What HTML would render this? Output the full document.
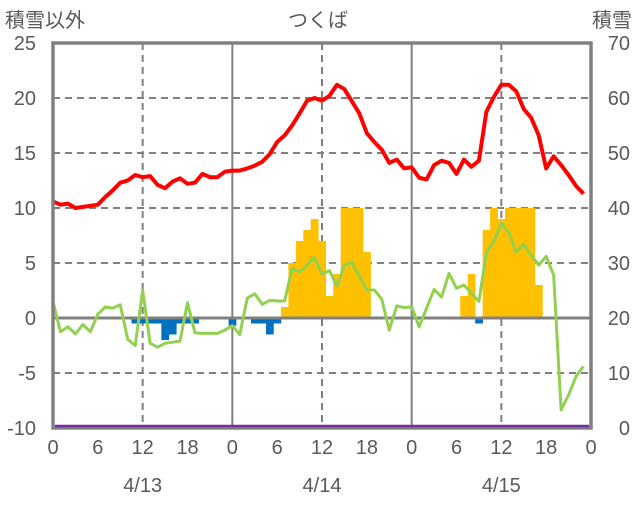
<!DOCTYPE html>
<html><head><meta charset="utf-8"><style>
body{margin:0;background:#fff;}
svg text{font-family:"Liberation Sans Narrow","Liberation Sans","Noto Sans CJK JP",sans-serif;fill:#595959;}
</style></head><body>
<svg id="chart" width="636" height="501" viewBox="0 0 636 501" xmlns="http://www.w3.org/2000/svg"></svg>
<script>
const hours=[...Array(72).keys()];
const temp=[10.6,10.3,10.4,10.0,10.1,10.2,10.3,11.0,11.6,12.3,12.5,13.0,12.8,12.9,12.1,11.8,12.4,12.7,12.2,12.3,13.1,12.8,12.8,13.3,
13.4,13.4,13.6,13.85,14.2,14.9,16.0,16.6,17.5,18.6,19.75,20.0,19.75,20.2,21.2,20.8,19.7,18.6,16.8,16.0,15.3,14.1,14.4,13.6,
13.7,12.75,12.6,13.9,14.3,14.1,13.1,14.4,13.75,14.3,18.75,20.1,21.2,21.2,20.6,19.0,18.2,16.6,13.6,14.7,13.9,13.0,12.0,11.3];
const green=[1.5,-1.25,-0.8,-1.45,-0.6,-1.25,0.35,1.0,0.9,1.2,-1.95,-2.5,2.5,-2.3,-2.65,-2.3,-2.2,-2.1,1.4,-1.35,-1.4,-1.4,-1.4,-1.1,
-0.7,-1.5,1.8,2.2,1.25,1.6,1.55,1.55,4.5,4.2,4.8,5.5,4.0,4.3,2.9,4.8,5.1,3.8,2.55,2.55,1.7,-1.1,1.1,0.95,
1.0,-0.8,0.9,2.6,1.9,4.05,2.7,3.0,2.25,1.5,5.95,6.95,8.65,7.75,6.0,6.7,5.7,4.8,5.6,3.9,-8.35,-7.0,-5.3,-4.4];
const barHours=[11,12,13,14,15,16,17,18,19,24,27,28,29,30,31,32,33,34,35,36,37,38,39,40,41,42,55,56,57,58,59,60,61,62,63,64,65];
const barValues=[-0.5,-0.5,-0.5,-0.5,-2,-1.5,-0.5,-0.5,-0.5,-0.7,-0.5,-0.5,-1.5,-0.5,1,5,7,8,9,7,2,4,10,10,10,6,2,4,-0.5,8,10,9,10,10,10,10,3];
const snowDepth=0;
const leftTicks=[25,20,15,10,5,0,-5,-10];
const rightTicks=[70,60,50,40,30,20,10,0];
const xTickLabels=["0","6","12","18","0","6","12","18","0","6","12","18","0"];
const dateLabels=["4/13","4/14","4/15"];

const svg=document.getElementById('chart');
const NS='http://www.w3.org/2000/svg';
const X0=53,X1=591,Y0=428,Y1=43;
const xs=h=>X0+h*(X1-X0)/72;
const yl=v=>Y0-(v+10)*(Y0-Y1)/35;
const yr=v=>Y0-v*(Y0-Y1)/70;
function mk(tag,attrs,parent){const e=document.createElementNS(NS,tag);for(const k in attrs)e.setAttribute(k,attrs[k]);(parent||svg).appendChild(e);return e;}

// gridlines
leftTicks.forEach(v=>{if(v===25||v===-10||v===0)return;
 const g=mk('line',{x1:X0,x2:X1,y1:yl(v),y2:yl(v),stroke:'#808080','stroke-width':2,'stroke-dasharray':'7,5'});
 
 });
for(let h=12;h<72;h+=12){
 const solid=h%24===0;
 const g=mk('line',{x1:xs(h),x2:xs(h),y1:Y1,y2:Y0,stroke:'#808080','stroke-width':solid?2:2,'stroke-dasharray':solid?'none':'7,5'});
 
 }

// bars
barHours.forEach((h,i)=>{const v=barValues[i];const w=(X1-X0)/72;
 const yTop=v>0?yl(v):yl(0),yBot=v>0?yl(0):yl(v);
 const r=mk('rect',{x:xs(h)-w/2,y:yTop,width:w+0.3,height:yBot-yTop,fill:v>0?'#FFC000':'#0070C0'});
 
 });

// zero line
const z=mk('line',{x1:X0,x2:X1,y1:yl(0),y2:yl(0),stroke:'#808080','stroke-width':3});



// series
function poly(arr,color,w,name){const p=mk('polyline',{points:arr.map((v,i)=>xs(hours[i])+','+yl(v)).join(' '),fill:'none',stroke:color,'stroke-width':w,'stroke-linejoin':'round'});
 
 }
poly(green,'#92D050',3,'green-series-line');
poly(temp,'#FF0000',4,'temperature-line');

// frame
const f=mk('rect',{x:X0,y:Y1,width:X1-X0,height:Y0-Y1,fill:'none',stroke:'#808080','stroke-width':3.5});


const sd=mk('line',{x1:X0+2,x2:X1-2,y1:yr(snowDepth)-2,y2:yr(snowDepth)-2,stroke:'#7030A0','stroke-width':2.5});



// axis labels
leftTicks.forEach(v=>{const t=mk('text',{x:36,y:yl(v)+7,'text-anchor':'end','font-size':20});t.textContent=v;
 
 });
rightTicks.forEach(v=>{const t=mk('text',{x:630,y:yr(v)+7,'text-anchor':'end','font-size':20});t.textContent=v;
 
 });
xTickLabels.forEach((s,i)=>{const t=mk('text',{x:xs(i*6),y:454,'text-anchor':'middle','font-size':20});t.textContent=s;
 
 });
dateLabels.forEach((s,i)=>{const t=mk('text',{x:xs(12+24*i),y:492,'text-anchor':'middle','font-size':20});t.textContent=s;
 
 });
</script>
<svg width="636" height="40" style="position:absolute;left:0;top:0">
<text x="5" y="27" font-size="20">積雪以外</text>
<text x="318" y="27" font-size="20" text-anchor="middle">つくば</text>
<text x="632" y="27" font-size="20" text-anchor="end">積雪</text>
</svg>
</body></html>
